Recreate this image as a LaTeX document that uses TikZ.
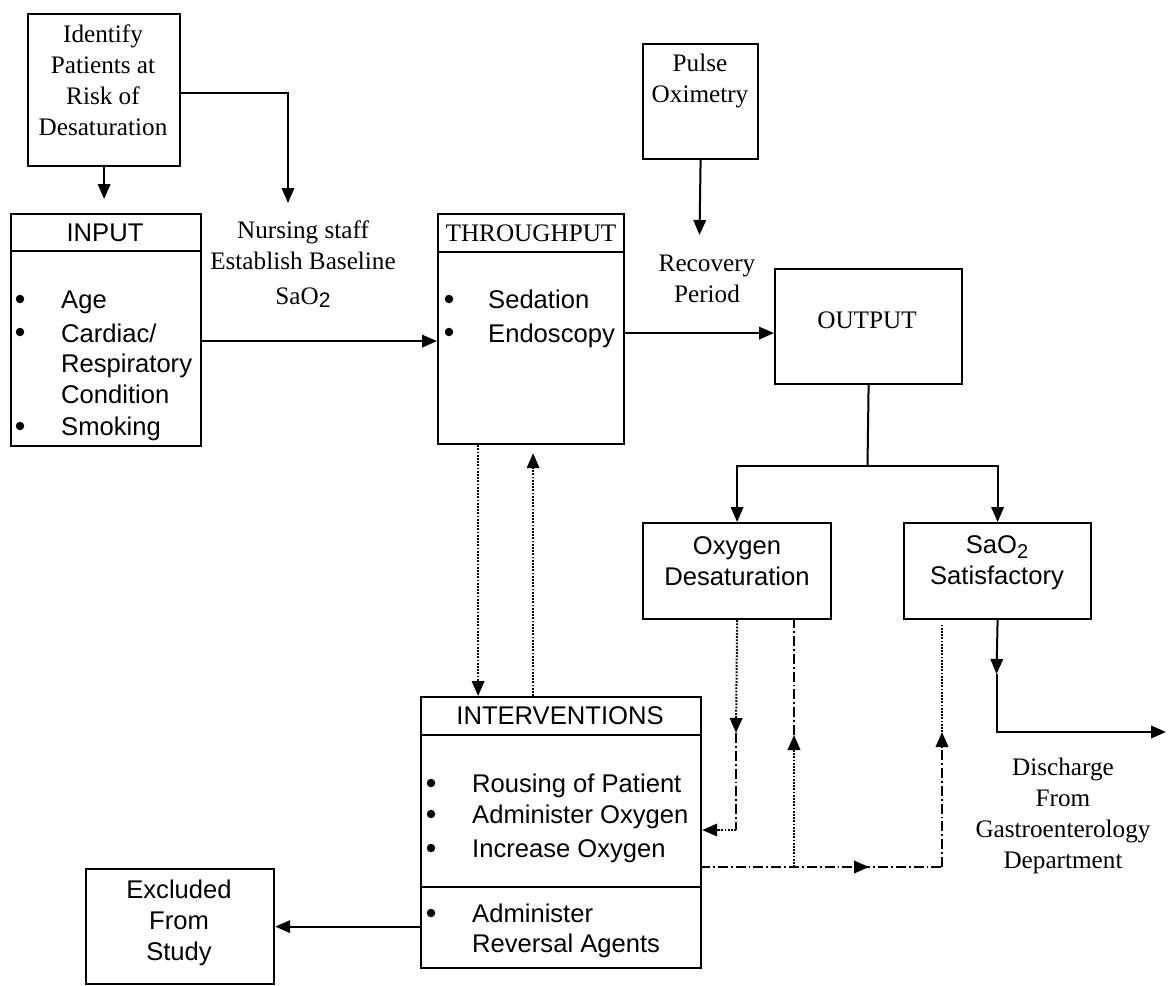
\documentclass[tikz,border=0pt]{standalone}
\usepackage{fontspec}
\setmainfont{Liberation Serif}
\setsansfont{Liberation Sans}
\usetikzlibrary{arrows.meta}
\begin{document}
\begin{tikzpicture}[x=1pt,y=-1pt,
  box/.style={draw, line width=2.2pt, inner sep=0pt, anchor=north west},
  ser/.style={font=\fontsize{25.2}{31}\selectfont, align=center, inner sep=0pt},
  san/.style={font=\sffamily\fontsize{25.6}{31}\selectfont, align=center, inner sep=0pt},
  itm/.style={font=\sffamily\fontsize{25.6}{31}\selectfont, inner sep=0pt, anchor=base west},
  bul/.style={circle, fill, inner sep=0pt, minimum size=8.5pt},
  arr/.style={-{Triangle[length=15pt,width=12.5pt]}, line width=2pt},
  ln/.style={line width=2pt},
  sep/.style={line width=2.2pt},
  dots/.style={line width=1.8pt, dash pattern=on 1.8pt off 1.4pt},
  dashdot/.style={line width=1.4pt, dash pattern=on 10pt off 3pt on 1.8pt off 3pt}
]
\useasboundingbox (0,0) rectangle (1172,985);

% ---- Identify box
\node[box, minimum width=152pt, minimum height=152pt] (ident) at (27,13) {};
\node[ser] (identt) at (103,80) {Identify\\Patients at\\Risk of\\Desaturation};

% ---- INPUT
\node[box, minimum width=190pt, minimum height=232pt] (input) at (10,213) {};
\draw[sep] (10,251) -- (200,251);
\node[san] (inputt) at (105,233) {INPUT};
\node[itm] (inp1) at (61,308) {Age};
\node[itm] (inp2) at (61,342) {Cardiac/};
\node[itm] (inp3) at (61,372) {Respiratory};
\node[itm] (inp4) at (61,403) {Condition};
\node[itm] (inp5) at (61,435) {Smoking};
\node[bul] (ib1) at (20,299) {};
\node[bul] (ib2) at (20,332) {};
\node[bul] (ib3) at (20,426) {};

% ---- Nursing text
\node[ser] (nurse) at (303,264) {Nursing staff\\Establish Baseline\\[4pt]SaO\raisebox{-0.3ex}{\sffamily\fontsize{21}{21}\selectfont 2}};
\coordinate (ns) at (288,203);

% ---- THROUGHPUT
\node[box, minimum width=186pt, minimum height=230pt] (thr) at (437,213) {};
\draw[sep] (437,252) -- (623,252);
\node[ser] (thrt) at (531,233) {THROUGHPUT};
\node[itm] (thr1) at (488,308) {Sedation};
\node[itm] (thr2) at (488,342) {Endoscopy};
\node[bul] (tb1) at (449,299) {};
\node[bul] (tb2) at (449,332) {};

% ---- Pulse Oximetry
\node[box, minimum width=115pt, minimum height=115pt] (pulse) at (642,43) {};
\node[ser] (pulset) at (700,81) {Pulse\\Oximetry};
\coordinate (rp) at (699.5,235);
\node[ser] (recov) at (707,279) {Recovery\\Period};

% ---- OUTPUT
\node[box, minimum width=187pt, minimum height=115pt] (out) at (774,268) {};
\node[ser] (outt) at (867,320) {OUTPUT};
\coordinate (br) at (867.5,466);

% ---- Oxygen Desaturation / SaO2 Satisfactory
\node[box, minimum width=188pt, minimum height=96pt] (desat) at (642,522) {};
\node[san] (desatt) at (737,561) {Oxygen\\Desaturation};
\node[box, minimum width=187pt, minimum height=96pt] (sat) at (903,522) {};
\node[san] (satt) at (997,563) {SaO\raisebox{-0.35ex}{\fontsize{20}{20}\selectfont 2}\\Satisfactory};

% ---- Discharge
\coordinate (dend) at (1166,732);
\coordinate (sm) at (996.5,674);
\node[ser] (disch) at (1063,816) {Discharge\\From\\Gastroenterology\\Department};

% ---- INTERVENTIONS
\node[box, minimum width=280pt, minimum height=271pt] (interv) at (420,696) {};
\draw[sep] (420,735) -- (700,735);
\draw[sep] (420,887) -- (700,887);
\node[san] (intervt) at (560,716) {INTERVENTIONS};
\node[itm] (iv1) at (472,792) {Rousing of Patient};
\node[itm] (iv2) at (472,823) {Administer Oxygen};
\node[itm] (iv3) at (472,857) {Increase Oxygen};
\node[itm] (iv4) at (472,922) {Administer};
\node[itm] (iv5) at (472,952) {Reversal Agents};
\node[bul] (vb1) at (431,783) {};
\node[bul] (vb2) at (431,814) {};
\node[bul] (vb3) at (431,848) {};
\node[bul] (vb4) at (431,913) {};

% ---- Excluded
\node[box, minimum width=188pt, minimum height=115pt] (excl) at (85,868) {};
\node[san] (exclt) at (179,923) {Excluded\\From\\Study};

% ---- solid connectors
\draw[arr, shorten >=14pt] (ident.south) -- (ident.south |- input.north);
\draw[arr] ([yshift=-3pt]ident.east) -| (ns);
\draw[arr] ([yshift=-11pt]input.east) -- ([yshift=-11pt]input.east -| thr.west);
\draw[arr] ([yshift=-4pt]thr.east) -- ([yshift=-4pt]thr.east -| out.west);
\draw[arr] (pulse.south) -- (rp);
\draw[ln] (out.south) -- (br);
\draw[arr] (br) -| (desat.north);
\draw[arr] (br) -| (sat.north);
\draw[arr] (sat.south) -- (sm);
\draw[arr] (sm) |- (dend);
\draw[arr] (excl.east -| interv.west) -- (excl.east);

% ---- dotted connectors throughput <-> interventions
\draw[dots, arr] ([xshift=-53pt]thr.south) -- ([xshift=-53pt]thr.south |- interv.north);
\draw[dots, arr] ([xshift=2pt]thr.south |- interv.north) -- ([xshift=2pt,yshift=-8pt]thr.south);

% ---- desaturation -> interventions
\coordinate (d1) at (736,733);
\coordinate (d2) at (736,830);
\draw[dots, arr] (desat.south) -- (d1);
\draw[dashdot] (d1) -- (d2);
\draw[dots, arr] (d2) -- (d2 -| interv.east);

% ---- interventions -> back up
\coordinate (h0) at (700,867);
\coordinate (h1) at (794,867);
\coordinate (h2) at (942,867);
\coordinate (hm) at (869,867);
\coordinate (u1) at (794,735);
\coordinate (u2) at (942,732);
\draw[dashdot] (h0) -- (h2);
\draw[dashdot, arr] (h0) -- (hm);
\draw[dots, arr] (h1) -- (u1);
\draw[dashdot] (u1) -- (u1 |- desat.south);
\draw[dashdot, arr] (h2) -- (u2);
\draw[dots] (u2) -- ([yshift=-4pt]u2 |- sat.south);
\end{tikzpicture}
\end{document}
